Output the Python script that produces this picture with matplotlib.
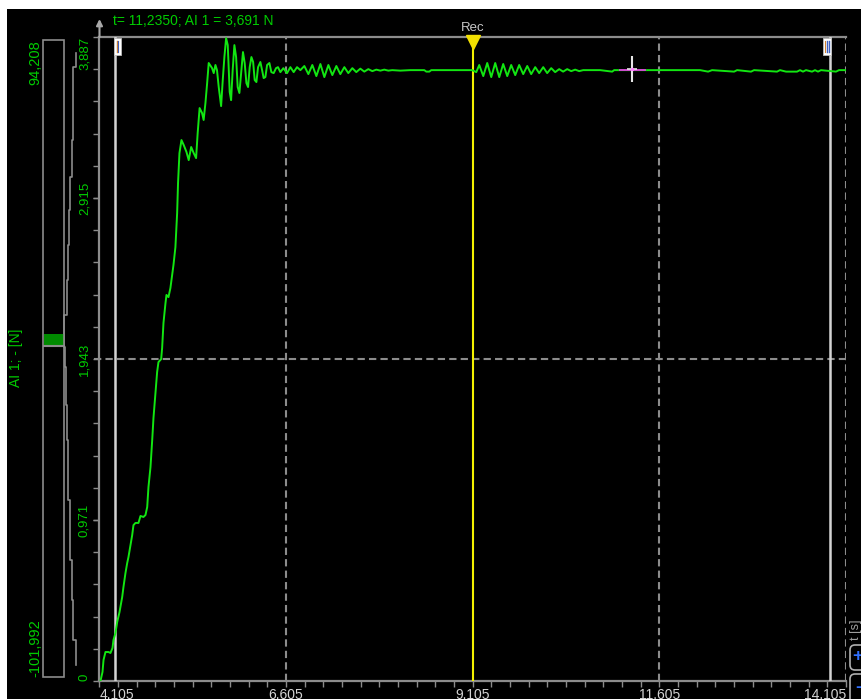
import matplotlib
matplotlib.use('Agg')
import matplotlib.pyplot as plt
from matplotlib.patches import Rectangle, FancyBboxPatch
from matplotlib.ticker import FixedLocator
from matplotlib.transforms import offset_copy, blended_transform_factory
import numpy as np

plt.rcParams['font.family'] = ['Liberation Sans', 'DejaVu Sans']

# ---------------- data ----------------
time_s = [4.118, 4.145, 4.159, 4.185, 4.225, 4.252, 4.279, 4.292, 4.319, 4.342,
          4.373, 4.409, 4.426, 4.453, 4.476, 4.493, 4.520, 4.543, 4.560, 4.587,
          4.627, 4.654, 4.694, 4.721, 4.744, 4.761, 4.788, 4.811, 4.828, 4.855,
          4.877, 4.895, 4.931, 4.944, 4.962, 4.989, 5.002, 5.029, 5.055, 5.078,
          5.096, 5.122, 5.145, 5.157, 5.176, 5.203, 5.233, 5.270, 5.300, 5.333,
          5.367, 5.399, 5.420, 5.446, 5.479, 5.500, 5.524, 5.547, 5.568, 5.613,
          5.635, 5.658, 5.679, 5.702, 5.734, 5.756, 5.778, 5.801, 5.823, 5.849,
          5.868, 5.889, 5.912, 5.935, 5.956, 5.979, 6.002, 6.027, 6.050, 6.073,
          6.095, 6.117, 6.140, 6.163, 6.184, 6.207, 6.229, 6.260, 6.283, 6.304,
          6.327, 6.350, 6.381, 6.407, 6.438, 6.470, 6.496, 6.528, 6.568, 6.617,
          6.662, 6.706, 6.751, 6.796, 6.849, 6.903, 6.956, 7.010, 7.064, 7.117,
          7.171, 7.224, 7.278, 7.331, 7.385, 7.438, 7.492, 7.545, 7.599, 7.652,
          7.706, 7.760, 7.813, 7.867, 7.920, 7.974, 8.027, 8.134, 8.268, 8.456,
          8.483, 8.523, 8.549, 9.098, 9.152, 9.192, 9.246, 9.299, 9.353, 9.406,
          9.460, 9.513, 9.567, 9.620, 9.674, 9.727, 9.781, 9.835, 9.888, 9.942,
          9.995, 10.049, 10.102, 10.156, 10.209, 10.263, 10.316, 10.370, 10.424, 10.477,
          10.531, 10.584, 10.812, 10.973, 10.999, 11.080, 11.240, 11.414, 12.150, 12.258,
          12.311, 12.606, 12.646, 12.833, 12.873, 13.181, 13.221, 13.302, 13.449, 13.489,
          13.529, 13.569, 13.650, 13.690, 13.730, 13.770, 13.971, 14.011, 14.105]
force_n = [0.000, 0.054, 0.127, 0.175, 0.175, 0.169, 0.199, 0.247, 0.290, 0.356,
           0.416, 0.507, 0.567, 0.652, 0.712, 0.748, 0.821, 0.881, 0.941, 0.954,
           0.954, 0.996, 0.990, 1.002, 1.050, 1.171, 1.291, 1.454, 1.587, 1.738,
           1.865, 1.925, 1.943, 2.010, 2.161, 2.281, 2.330, 2.317, 2.372, 2.450,
           2.511, 2.619, 2.824, 3.005, 3.186, 3.265, 3.235, 3.193, 3.144, 3.223,
           3.186, 3.156, 3.307, 3.458, 3.428, 3.386, 3.488, 3.609, 3.730, 3.699,
           3.669, 3.718, 3.687, 3.585, 3.470, 3.627, 3.766, 3.880, 3.838, 3.555,
           3.506, 3.687, 3.838, 3.766, 3.585, 3.549, 3.669, 3.796, 3.730, 3.609,
           3.585, 3.705, 3.766, 3.736, 3.627, 3.615, 3.705, 3.736, 3.687, 3.639,
           3.645, 3.718, 3.730, 3.675, 3.669, 3.699, 3.705, 3.675, 3.699, 3.669,
           3.705, 3.675, 3.705, 3.687, 3.712, 3.663, 3.718, 3.651, 3.724, 3.645,
           3.718, 3.657, 3.712, 3.663, 3.705, 3.669, 3.699, 3.675, 3.696, 3.678,
           3.693, 3.681, 3.690, 3.684, 3.690, 3.684, 3.687, 3.684, 3.687, 3.687,
           3.678, 3.678, 3.687, 3.687, 3.675, 3.718, 3.651, 3.730, 3.645, 3.730,
           3.645, 3.724, 3.651, 3.718, 3.657, 3.718, 3.663, 3.712, 3.663, 3.705,
           3.669, 3.705, 3.669, 3.699, 3.675, 3.693, 3.678, 3.693, 3.681, 3.690,
           3.681, 3.687, 3.687, 3.678, 3.687, 3.687, 3.687, 3.687, 3.687, 3.678,
           3.687, 3.678, 3.687, 3.678, 3.687, 3.678, 3.687, 3.678, 3.678, 3.687,
           3.678, 3.687, 3.678, 3.687, 3.678, 3.687, 3.678, 3.687, 3.687]

x_major = [4.105, 6.605, 9.105, 11.605, 14.105]
x_labels = ['4,105', '6,605', '9,105', '11,605', '14,105']
y_major = [0.0, 0.9717, 1.9435, 2.9152, 3.887]
y_labels = ['0', '0,971', '1,943', '2,915', '3,887']
x_grid = [6.605, 11.605, 14.105]
y_grid = [1.9435]

cursor_I = 4.319
cursor_II = 13.891
rec_time = 9.105
probe_t = 11.235
probe_v = 3.691
header = 't= 11,2350; AI 1 = 3,691 N'

level_min, level_max = -101.992, 94.208
level_value = 3.691
profile_edges = [90.20, 85.89, 74.19, 63.41, 52.01, 41.85, 31.07, 20.29, 9.50, 3.96,
                 -0.35, -6.51, -18.21, -29.00, -47.48, -65.96, -78.28, -90.60, -98.30]
profile_offsets = [33, 30.5, 30, 29, 27, 26.5, 25.5, 24, 21.5, 21,
                   22, 23.5, 24.5, 25.5, 27, 28.7, 30, 33]

# ---------------- styling ----------------
W, H = 862, 699
GREEN_LINE = '#12e612'
GREEN_TXT = '#00cc00'
GRAY = '#8c8c8c'
LIGHT = '#d4d4d4'


def fx(px):
    return px / W


def fy(py):
    return 1 - py / H


fig = plt.figure(figsize=(W / 100, H / 100), dpi=100, facecolor='white')
fig.patches.append(Rectangle((fx(7), 0), 1, fy(9), transform=fig.transFigure,
                             facecolor='black', edgecolor='none', zorder=-10))

# ---------------- main axes ----------------
ax = fig.add_axes([fx(99.5), fy(681), (846 - 99.5) / W, (681 - 37) / H])
ax.set_facecolor('black')
ax.set_xlim(x_major[0], x_major[-1])
ax.set_ylim(y_major[0], y_major[-1])
for side in ['left', 'bottom', 'top']:
    ax.spines[side].set_color(GRAY)
    ax.spines[side].set_linewidth(1.6)
ax.spines['right'].set_visible(False)

ax.set_xticks(x_major, x_labels)
ax.xaxis.set_minor_locator(FixedLocator(np.arange(x_major[0], x_major[-1] + 1e-6, 0.25)))
ax.tick_params(axis='x', which='both', colors=GRAY, labelcolor=LIGHT, labelsize=10,
               length=4, width=1, pad=1.0, direction='out')
xl = ax.get_xticklabels()
xl[0].set_ha('left')
xl[-1].set_ha('right')

ax.set_yticks(y_major, y_labels)
ax.yaxis.set_minor_locator(FixedLocator(np.arange(0, y_major[-1] + 1e-6, y_major[2] / 10)))
ax.tick_params(axis='y', which='both', colors=GRAY, labelcolor=GREEN_TXT, labelsize=9.5,
               length=4, width=1, pad=2.5, direction='out')
yl = ax.get_yticklabels()
for lab in yl:
    lab.set_rotation(90)
    lab.set_ha('right')
    lab.set_va('center')
yl[0].set_va('bottom')
yl[-1].set_va('top')

dash = (0, (3.5, 2))
for xg in x_grid:
    ax.axvline(xg, color=GRAY, lw=1.5, ls=dash, zorder=2)
for yg in y_grid:
    ax.axhline(yg, color=GRAY, lw=1.5, ls=dash, zorder=2, xmin=-0.008, clip_on=False)

# cursors
ax.axvline(cursor_I, color=LIGHT, lw=1.8, zorder=3)
ax.axvline(cursor_II, color=LIGHT, lw=1.8, zorder=3)
ax.axvline(rec_time, color='#f2f000', lw=1.5, zorder=4)

# signal
t = np.array(time_s)
v = np.array(force_n)
ax.plot(t, v, color=GREEN_LINE, lw=1.4, zorder=5)
mask = np.abs(t - probe_t) < 0.19
ax.plot(t[mask], v[mask], color='#e040e0', lw=1.3, zorder=6)

# crosshair
ax.plot([probe_t], [probe_v], marker='|', ms=19, mew=1.5, color='#e6e6e6', zorder=7)
ax.plot([probe_t], [probe_v], marker='_', ms=7, mew=1.2, color='#e6e6e6', zorder=7)
ax.plot([probe_t], [probe_v], marker='o', ms=2.5, color='#ff80ff', mec='none', zorder=8)

# Rec marker
tr = offset_copy(ax.transData, fig=fig, y=-5, units='dots')
ax.plot([rec_time], [y_major[-1]], marker='v', ms=10, color='#f2e000', mec='#f2e000',
        transform=tr, clip_on=False, zorder=9)
bt = blended_transform_factory(ax.transData, ax.transAxes)
tr_rec = offset_copy(bt, fig=fig, y=3, units='dots')
ax.text(rec_time, 1.0, 'Rec', transform=tr_rec, ha='center', va='bottom',
        color='#c8c8c8', fontsize=9.5)

# arrow at top of y axis
ax.annotate('', xy=(0, 1 + 18 / 644), xytext=(0, 1.0), xycoords='axes fraction',
            arrowprops=dict(arrowstyle='-|>', color='#a8a8a8', lw=1.5,
                            mutation_scale=9, shrinkA=0, shrinkB=0))

fig.text(fx(113), fy(21), header, color=GREEN_TXT, fontsize=10, va='center', ha='left')

# ---------------- overlay for UI decorations ----------------
ov = fig.add_axes([0, 0, 1, 1], zorder=20)
ov.set_xlim(0, W)
ov.set_ylim(H, 0)
ov.axis('off')
ov.patch.set_visible(False)

fig.canvas.draw()
xI = ax.transData.transform((cursor_I, 0))[0]
xII = ax.transData.transform((cursor_II, 0))[0]
ov.add_patch(Rectangle((xI - 1.5, 38), 7, 17, facecolor='white', edgecolor='#bbbbbb', lw=0.6))
ov.plot([xI + 1.5, xI + 1.5], [41, 52], color='#d08030', lw=1)
ov.plot([xI + 2.5, xI + 2.5], [41, 52], color='#4060c0', lw=0.8)
ov.add_patch(Rectangle((xII - 7, 38), 8, 17, facecolor='white', edgecolor='#bbbbbb', lw=0.6))
ov.plot([xII - 5, xII - 5], [41, 52], color='#d08030', lw=0.8)
ov.plot([xII - 3.5, xII - 3.5], [41, 52], color='#4060c0', lw=1)
ov.plot([xII - 1.5, xII - 1.5], [41, 52], color='#4060c0', lw=1)

# bottom-right widgets
ov.text(856, 630, 't [s]', rotation=90, ha='center', va='center', color='#a0a0a0', fontsize=9)
ov.add_patch(FancyBboxPatch((850, 645), 20, 25, boxstyle='round,pad=0,rounding_size=5',
                            facecolor='black', edgecolor='#b0b0b0', lw=1.2))
ov.add_patch(FancyBboxPatch((850, 674), 20, 30, boxstyle='round,pad=0,rounding_size=5',
                            facecolor='black', edgecolor='#b0b0b0', lw=1.2))
ov.text(858, 657, '+', ha='center', va='center', color='#3070ff', fontsize=13, fontweight='bold')
ov.text(858, 688, '-', ha='center', va='center', color='#3070ff', fontsize=13, fontweight='bold')

# ---------------- left level panel ----------------
lvl = fig.add_axes([fx(43), fy(677), (82 - 43) / W, (677 - 40) / H])
lvl.set_xlim(0, 39)
lvl.set_ylim(level_min, level_max)
lvl.axis('off')
lvl.patch.set_visible(False)
lvl.add_patch(Rectangle((0, level_min), 21, level_max - level_min, fill=False,
                        edgecolor=GRAY, lw=1.2, clip_on=False))
lvl.add_patch(Rectangle((0.6, 0), 20, level_value, facecolor='#008a00', edgecolor='none'))
lvl.plot([0, 21], [0, 0], color=GRAY, lw=1.5)
px_, py_ = [], []
for i, off in enumerate(profile_offsets):
    px_ += [off, off]
    py_ += [profile_edges[i], profile_edges[i + 1]]
lvl.plot(px_, py_, color=GRAY, lw=1.2, clip_on=False)

fig.text(fx(35), fy(40), '94,208', rotation=90, va='top', ha='center',
         color=GREEN_TXT, fontsize=10.5)
fig.text(fx(35), fy(677), '-101,992', rotation=90, va='bottom', ha='center',
         color=GREEN_TXT, fontsize=10.5)
fig.text(fx(16), fy(358), 'AI 1; - [N]', rotation=90, va='center', ha='center',
         color=GREEN_TXT, fontsize=10)

fig.savefig('out.png', dpi=100, facecolor='white')
